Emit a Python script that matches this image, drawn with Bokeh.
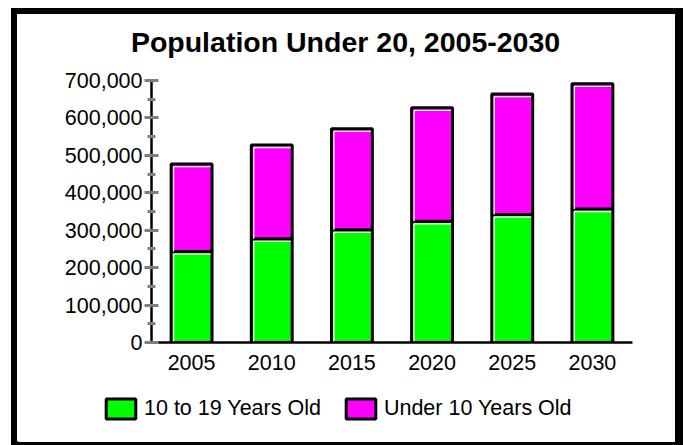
from bokeh.plotting import figure
from bokeh.layouts import row, column
from bokeh.models import (FactorRange, Range1d, SingleIntervalTicker, NumeralTickFormatter,
                          Legend, LegendItem, ColumnDataSource, Spacer, Label)
from bokeh.transform import dodge
from bokeh.embed import file_html
from bokeh.resources import INLINE

years = ["2005", "2010", "2015", "2020", "2025", "2030"]
age_10_19 = [243000, 277000, 301000, 324000, 342000, 357000]
under_10 = [234000, 251000, 270000, 303000, 322000, 334000]
series_labels = ["10 to 19 Years Old", "Under 10 Years Old"]
series_colors = ["#00FF00", "#FF00FF"]
title_text = "Population Under 20, 2005-2030"

FONT = "Liberation Sans"
W, HT, HP, HL, B = 658, 54, 312, 62, 6
BAR_W = 0.51
TXT = "21.5px"


def strip(height):
    f = figure(width=W, height=height, output_backend="svg", toolbar_location=None,
               x_range=(0, 1), y_range=(0, 1), x_axis_type=None, y_axis_type=None,
               min_border=0, outline_line_color=None)
    f.frame_align = False
    f.grid.visible = False
    return f


# ---- title strip ----
tf = strip(HT)
tf.add_layout(Label(x=0.5, y=0.5, text=title_text, text_align="center", text_baseline="middle",
                    text_font=FONT, text_font_size="28.5px", text_font_style="bold",
                    text_color="black", x_offset=-1))

# ---- chart ----
source = ColumnDataSource(dict(year=years, a=age_10_19, b=under_10))

p = figure(x_range=FactorRange(*years, range_padding=0), y_range=Range1d(0, 700000),
           width=W, height=HP, output_backend="svg", toolbar_location=None,
           min_border_left=134, min_border_right=43, min_border_top=12, min_border_bottom=38)
p.frame_align = False

r = p.vbar_stack(["a", "b"], x="year", width=BAR_W, source=source,
                 fill_color=series_colors, line_color="black", line_width=3)

# light bevel (white inner edge on left and top of every segment)
bot = [0] * len(years)
tops = [a + b for a, b in zip(age_10_19, under_10)]
px_y = 700000 / 262.0   # data units per screen pixel on the value axis
hl = ColumnDataSource(dict(
    year=years + years,
    y0=bot + age_10_19,
    y1=[v - 2.6 * px_y for v in age_10_19] + [v - 2.6 * px_y for v in tops],
))
xl = dodge("year", -BAR_W / 2 + 0.03, range=p.x_range)
xr = dodge("year", BAR_W / 2 - 0.02, range=p.x_range)
p.segment(x0=xl, x1=xl, y0="y0", y1="y1", source=hl, line_color="white", line_width=1.3)
p.segment(x0=xl, x1=xr, y0="y1", y1="y1", source=hl, line_color="white", line_width=1.3)

p.xgrid.visible = False
p.ygrid.visible = False
p.outline_line_color = None
p.background_fill_color = "white"
p.border_fill_color = "white"

ya = p.yaxis[0]
ya.ticker = SingleIntervalTicker(interval=100000, num_minor_ticks=2)
ya.formatter = NumeralTickFormatter(format="0,0")
ya.major_tick_in = 7
ya.major_tick_out = 7
ya.minor_tick_in = 4
ya.minor_tick_out = 4
ya.major_tick_line_color = "#808080"
ya.minor_tick_line_color = "#808080"
ya.major_tick_line_width = 3
ya.minor_tick_line_width = 3
ya.axis_line_color = "black"
ya.axis_line_width = 2.5
ya.major_label_text_font = FONT
ya.major_label_text_font_size = TXT
ya.major_label_text_color = "black"
ya.major_label_standoff = 2

xa = p.xaxis[0]
xa.major_tick_in = 0
xa.major_tick_out = 0
xa.major_tick_line_color = None
xa.minor_tick_line_color = None
xa.axis_line_color = "black"
xa.axis_line_width = 2.5
xa.major_label_text_font = FONT
xa.major_label_text_font_size = TXT
xa.major_label_text_color = "black"
xa.major_label_standoff = 12

# ---- legend strip ----
lf = strip(HL)
offscreen = ColumnDataSource(dict(x=[-10], top=[-10]))
proxies = [lf.vbar(x="x", top="top", width=0.1, source=offscreen, fill_color=c,
                   line_color="black", line_width=3) for c in series_colors]
legend = Legend(items=[LegendItem(label=lab, renderers=[rr]) for lab, rr in zip(series_labels, proxies)],
                orientation="horizontal", location=(85, 21),
                padding=0, margin=0, spacing=21, label_standoff=5,
                glyph_width=37, glyph_height=25,
                border_line_alpha=0, background_fill_alpha=0,
                label_text_font=FONT, label_text_font_size=TXT, label_text_color="black")
lf.add_layout(legend, "center")

# ---- black frame around everything ----
inner_h = HT + HP + HL
top = Spacer(width=W + 2 * B + 2, height=B, background="black")
bottom = Spacer(width=W + 2 * B + 2, height=3, background="black")
left = Spacer(width=B, height=inner_h, background="black")
right = Spacer(width=B + 2, height=inner_h, background="black")
frame_box = column(top, row(left, column(row(tf), p, row(lf)), right), bottom)
layout = column(Spacer(width=10, height=8), row(Spacer(width=11, height=inner_h + B + 3), frame_box))

open("out.html", "w").write(file_html(layout, INLINE))
